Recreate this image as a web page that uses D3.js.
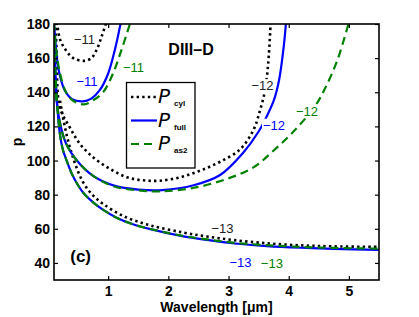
<!DOCTYPE html>
<html><head><meta charset="utf-8">
<script src="https://cdn.jsdelivr.net/npm/d3@7"></script>
<style>body{margin:0;background:#fff}</style>
</head><body>
<script>
// ---- data ----
const xTicks = [1, 2, 3, 4, 5];
const yTicks = [40, 60, 80, 100, 120, 140, 160, 180];

const lamCyl11 = [0.15, 0.2, 0.3, 0.42, 0.6, 0.72, 0.81, 0.89, 0.97];
const pCyl11   = [181, 171, 164.5, 160, 158.4, 160, 165, 172.5, 181];
const lamFull11 = [0.1, 0.14, 0.19, 0.28, 0.4, 0.58, 0.72, 0.86, 1.0, 1.11, 1.21];
const pFull11   = [181, 163, 151, 141, 136, 134.7, 136.3, 141.2, 151, 164.7, 181];
const lamAs11 = [0.1, 0.14, 0.2, 0.3, 0.42, 0.6, 0.75, 0.92, 1.08, 1.22, 1.37];
const pAs11   = [181, 164, 151, 140, 135, 132.9, 135.3, 140.2, 151, 164.7, 181];

const lamCyl12 = [0.125, 0.145, 0.195, 0.36, 0.53, 0.75, 1.03, 1.31, 1.58, 1.86, 2.2, 2.53, 2.86, 3.19, 3.41, 3.52, 3.6, 3.64, 3.67, 3.7];
const pCyl12   = [181, 163, 131.4, 119.6, 109.8, 101.9, 95.1, 90.2, 88.4, 88.2, 90.2, 94.1, 99.3, 106.5, 117.6, 129, 140, 150, 162, 181];
const lamFull12 = [0.1, 0.13, 0.2, 0.3, 0.48, 0.75, 1.1, 1.5, 1.9, 2.42, 2.86, 3.24, 3.5, 3.65, 3.755, 3.84, 3.92, 3.955];
const pFull12   = [170, 140, 122, 110, 100, 91, 85.3, 83, 82.7, 85.5, 91.5, 104.4, 117, 127, 135.5, 147.2, 167.7, 181];
const lamAs12 = [0.1, 0.13, 0.2, 0.3, 0.48, 0.75, 1.1, 1.5, 1.86, 2.41, 2.97, 3.42, 3.75, 4.08, 4.44, 4.6, 4.81, 5.0];
const pAs12   = [170, 140, 122, 110, 100, 91, 84.8, 82.5, 81.9, 83.9, 89.2, 96.1, 105.9, 117, 132, 142, 159, 181];

const lamCyl13 = [0.2, 0.31, 0.43, 0.58, 0.75, 0.92, 1.25, 1.7, 2.25, 2.64, 3.08, 3.64, 4.2, 4.75, 5.5];
const pCyl13   = [135, 115, 100.3, 87.5, 79.5, 74.5, 67.5, 62, 57.8, 55.5, 53.4, 51.5, 50.3, 49.7, 49.4];
const lamFull13 = [0.11, 0.14, 0.2, 0.25, 0.31, 0.4, 0.5, 0.6, 0.75, 0.9, 1.14, 1.4, 1.7, 2.25, 2.7, 3.1, 3.64, 4.2, 4.75, 5.5];
const pFull13   = [170, 140, 115, 106, 100, 92, 85.5, 80.5, 75.5, 71.5, 66.5, 62.8, 59.8, 55.6, 53.2, 51.4, 49.9, 48.9, 48.2, 47.6];
const lamAs13 = [0.11, 0.14, 0.2, 0.25, 0.31, 0.4, 0.5, 0.6, 0.75, 0.9, 1.14, 1.4, 1.7, 2.25, 2.7, 3.1, 3.64, 4.2, 4.75, 5.5];
const pAs13   = [170, 140, 115, 106, 100, 92, 85.5, 80.5, 75.5, 71.5, 66.5, 62.8, 59.9, 55.8, 53.5, 51.8, 50.4, 49.4, 48.8, 48.4];

const labelText = ["\u221211", "\u221211", "\u221211", "\u221212", "\u221212", "\u221212", "\u221213", "\u221213", "\u221213"];
const labelLam  = [0.607, 0.648, 1.42, 3.564, 3.755, 4.304, 2.9, 3.2, 3.72];
const labelP    = [171.2, 146.6, 154.5, 144, 120.8, 128.7, 60.5, 40.6, 40];
const labelKind = ["cyl", "full", "as2", "cyl", "full", "as2", "cyl", "full", "as2"];

const legendNames = ["cyl", "full", "as2"];

// ---- styles ----
const style = {
  cyl:  {color: "#000000", width: 2.6, dash: "2.4 3.2"},
  full: {color: "#0000ff", width: 2.2, dash: null},
  as2:  {color: "#008000", width: 2.2, dash: "8 5"}
};
const labelColor = {cyl: "#222", full: "#0000ff", as2: "#008000"};

const W = 419, H = 317;
const L = 54, R = 379, T = 24, B = 280;
const x = d3.scaleLinear().domain([0.1, 5.5]).range([L, R]);
const y = d3.scaleLinear().domain([30, 180]).range([B, T]);
const FONT = "'Liberation Sans', Arial, sans-serif";

const svg = d3.select("body").append("svg").attr("width", W).attr("height", H)
  .style("font-family", FONT);

svg.append("defs").append("clipPath").attr("id", "clip")
  .append("rect").attr("x", L).attr("y", T).attr("width", R - L).attr("height", B - T);

const series = [
  {kind: "cyl", lam: lamCyl11, p: pCyl11}, {kind: "cyl", lam: lamCyl12, p: pCyl12}, {kind: "cyl", lam: lamCyl13, p: pCyl13},
  {kind: "full", lam: lamFull11, p: pFull11}, {kind: "full", lam: lamFull12, p: pFull12}, {kind: "full", lam: lamFull13, p: pFull13},
  {kind: "as2", lam: lamAs11, p: pAs11}, {kind: "as2", lam: lamAs12, p: pAs12}, {kind: "as2", lam: lamAs13, p: pAs13}
];

const line = d3.line().x(d => x(d[0])).y(d => y(d[1])).curve(d3.curveCatmullRom.alpha(0.5));
const g = svg.append("g").attr("clip-path", "url(#clip)");
series.forEach(s => {
  const st = style[s.kind];
  g.append("path").datum(s.lam.map((l, i) => [l, s.p[i]]))
    .attr("d", line).attr("fill", "none")
    .attr("stroke", st.color).attr("stroke-width", st.width)
    .attr("stroke-dasharray", st.dash);
});

// contour labels with white backgrounds
labelText.forEach((t, i) => {
  const cx = x(labelLam[i]), cy = y(labelP[i]);
  const tg = svg.append("g");
  const txt = tg.append("text").attr("x", cx).attr("y", cy).attr("dy", "0.36em")
    .attr("text-anchor", "middle").attr("font-size", 13).attr("fill", labelColor[labelKind[i]]).text(t);
  const bb = txt.node().getBBox();
  tg.insert("rect", "text").attr("x", bb.x - 1).attr("y", bb.y + 1).attr("width", bb.width + 2).attr("height", bb.height - 2).attr("fill", "#fff");
});

// axes
const xAxis = d3.axisBottom(x).tickValues(xTicks).tickSizeInner(-4).tickSizeOuter(0).tickPadding(6).tickFormat(d3.format("d"));
const yAxis = d3.axisLeft(y).tickValues(yTicks).tickSizeInner(-4).tickSizeOuter(0).tickPadding(4).tickFormat(d3.format("d"));
const xTop = d3.axisTop(x).tickValues(xTicks).tickSizeInner(-4).tickSizeOuter(0).tickFormat("");
const yRight = d3.axisRight(y).tickValues(yTicks).tickSizeInner(-4).tickSizeOuter(0).tickFormat("");

[[xAxis, `translate(0,${B})`], [yAxis, `translate(${L},0)`], [xTop, `translate(0,${T})`], [yRight, `translate(${R},0)`]].forEach(([ax, tr]) => {
  const a = svg.append("g").attr("transform", tr).call(ax);
  a.select(".domain").remove();
  a.selectAll("line").attr("stroke", "#000").attr("stroke-width", 1.2);
  a.selectAll("text").attr("font-size", 14).attr("font-weight", "bold")
    .attr("fill", "#000").attr("font-family", FONT);
});
svg.append("rect").attr("x", L).attr("y", T).attr("width", R - L).attr("height", B - T)
  .attr("fill", "none").attr("stroke", "#000").attr("stroke-width", 1.6);

// axis titles
svg.append("text").attr("x", (L + R) / 2).attr("y", 312).attr("text-anchor", "middle")
  .attr("font-size", 14).attr("font-weight", "bold").text("Wavelength [\u03bcm]");
svg.append("text").attr("transform", `translate(22,${y(110.9)}) rotate(-90)`).attr("text-anchor", "middle")
  .attr("font-size", 14).attr("font-weight", "bold").text("p");

// annotations
svg.append("text").attr("x", x(2.0)).attr("y", y(161.8)).attr("font-size", 16).attr("font-weight", "bold").text("DIII\u2013D");
svg.append("text").attr("x", x(0.37)).attr("y", y(40.5)).attr("font-size", 17).attr("font-weight", "bold").text("(c)");

// legend
const lg = svg.append("g");
lg.append("rect").attr("x", 126.5).attr("y", 82.5).attr("width", 68.5).attr("height", 85.5)
  .attr("fill", "#fff").attr("stroke", "#000").attr("stroke-width", 1.3);
legendNames.forEach((n, i) => {
  const yy = 97 + i * 23.5;
  const st = style[n];
  lg.append("line").attr("x1", 131).attr("x2", 157).attr("y1", yy).attr("y2", yy)
    .attr("stroke", st.color).attr("stroke-width", st.width).attr("stroke-dasharray", st.dash);
  lg.append("text").attr("x", 158).attr("y", yy + 6).attr("font-family", "'DejaVu Sans', sans-serif")
    .attr("font-size", 20).attr("font-style", "italic").text("P");
  lg.append("text").attr("x", 174).attr("y", yy + 9).attr("font-size", 8).attr("font-weight", "bold").text(n);
});
</script>
</body></html>
